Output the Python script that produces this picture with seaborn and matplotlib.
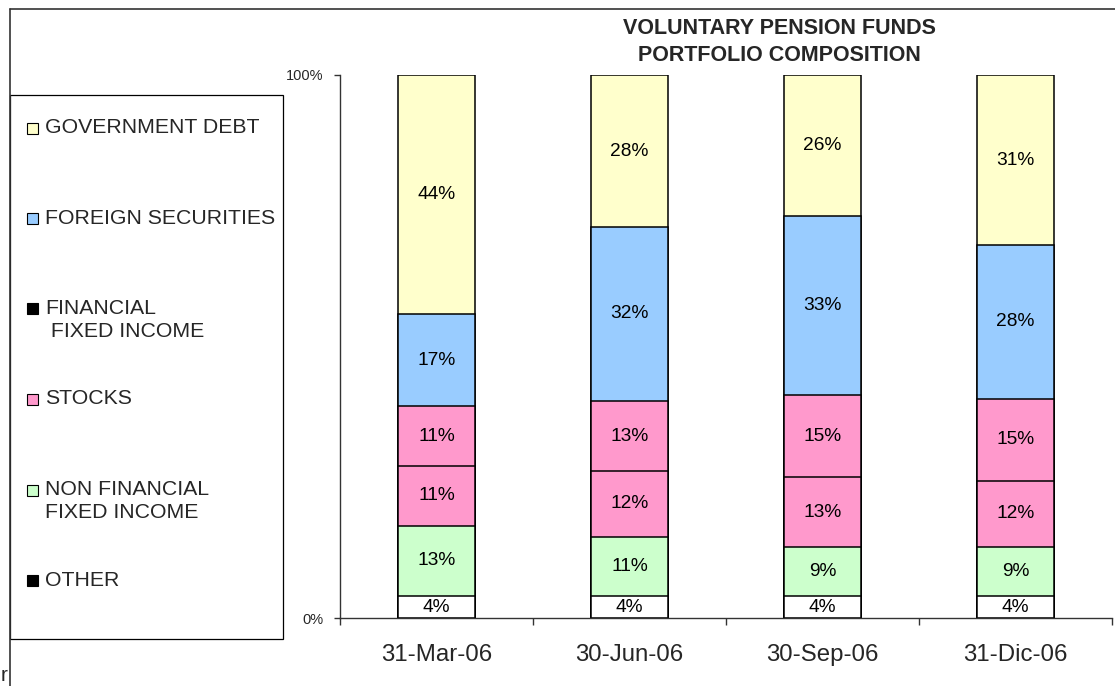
import numpy as np
import pandas as pd
import seaborn as sns
import matplotlib.pyplot as plt
from matplotlib.patches import Rectangle
from matplotlib.lines import Line2D

# values (percent of portfolio)
dates = ["31-Mar-06", "30-Jun-06", "30-Sep-06", "31-Dic-06"]
other = [4, 4, 4, 4]
non_financial = [13, 11, 9, 9]
stocks = [11, 12, 13, 12]
financial = [11, 13, 15, 15]
foreign = [17, 32, 33, 28]
government = [44, 28, 26, 31]

# stacking order bottom -> top
series = ["OTHER", "NON FINANCIAL\nFIXED INCOME", "STOCKS",
          "FINANCIAL\n FIXED INCOME", "FOREIGN SECURITIES", "GOVERNMENT DEBT"]
bar_colors = ["#FFFFFF", "#CCFFCC", "#FF99CC", "#FF99CC", "#99CCFF", "#FFFFCC"]
legend_colors = ["#000000", "#CCFFCC", "#FF99CC", "#000000", "#99CCFF", "#FFFFCC"]

W, H = 1115, 686


def main():
    sns.set_theme(style="white")
    plt.rcParams["font.family"] = ["Liberation Sans", "DejaVu Sans"]

    df = pd.DataFrame(
        [other, non_financial, stocks, financial, foreign, government],
        index=series, columns=dates,
    )
    # 100% stacked: normalise each column
    shares = df / df.sum(axis=0) * 100
    tops = shares.cumsum(axis=0)
    bottoms = tops - shares

    fig = plt.figure(figsize=(W / 100, H / 100), dpi=100)
    ax = fig.add_axes([340 / W, 68 / H, 772 / W, 543 / H])

    # draw cumulative bars from the top series down so each covers the next
    for name, color in reversed(list(zip(series, bar_colors))):
        sns.barplot(
            x=dates, y=tops.loc[name].values, color=color, saturation=1,
            width=0.4, edgecolor="black", linewidth=1.1, ax=ax, zorder=2,
        )

    for name in series:
        for j, d in enumerate(dates):
            ymid = (bottoms.loc[name, d] + tops.loc[name, d]) / 2
            ax.text(j, ymid, f"{df.loc[name, d]}%", ha="center", va="center",
                    fontsize=13.8, color="black", zorder=3)

    ax.set_xlim(-0.5, 3.5)
    ax.set_ylim(0, 100)
    ax.set_xlabel("")
    ax.set_ylabel("")
    ax.set_yticks([0, 100])
    ax.set_yticklabels(["0%", "100%"], fontsize=10.5)
    ax.set_xticks(range(len(dates)))
    ax.set_xticklabels(dates, fontsize=17.3)
    ax.set_xticks([-0.5, 0.5, 1.5, 2.5, 3.5], minor=True)
    ax.tick_params(axis="x", which="major", length=0, pad=19)
    ax.tick_params(axis="x", which="minor", length=5, width=1, color="#333333",
                   direction="out", bottom=True)
    ax.tick_params(axis="y", length=4, width=1, color="#333333", pad=8,
                   direction="out", left=True)
    for s in ["top", "right"]:
        ax.spines[s].set_visible(False)
    for s in ["left", "bottom"]:
        ax.spines[s].set_color("#333333")
        ax.spines[s].set_linewidth(1)
    ax.set_facecolor("white")

    fig.text(779 / W, 1 - 42 / H, "VOLUNTARY PENSION FUNDS\nPORTFOLIO COMPOSITION",
             ha="center", va="center", fontsize=15.5, fontweight="bold",
             linespacing=1.35)

    # chart-area border (partially cropped)
    fig.add_artist(Line2D([10 / W, 10 / W], [0, 1 - 9 / H], color="#333333", lw=1.2))
    fig.add_artist(Line2D([10 / W, 1], [1 - 9 / H, 1 - 9 / H], color="#333333", lw=1.2))
    fig.text(1 / W, 1 / H, "r", fontsize=15, ha="left", va="bottom")

    # legend box, entries listed top -> bottom
    fig.add_artist(Rectangle((10 / W, 1 - 639 / H), 273 / W, 544 / H,
                             transform=fig.transFigure, fill=False,
                             ec="black", lw=0.9))
    for k, (name, color) in enumerate(zip(series[::-1], legend_colors[::-1])):
        yc = 128 + 90.5 * k
        fig.add_artist(Rectangle((27 / W, 1 - (yc + 5.5) / H), 11 / W, 11 / H,
                                 transform=fig.transFigure, fc=color,
                                 ec="black", lw=0.8))
        fig.text(45 / W, 1 - (yc - 10) / H, name, ha="left", va="top",
                 fontsize=15.3, linespacing=1.25)

    fig.savefig("out.png", dpi=100)


if __name__ == "__main__":
    main()
